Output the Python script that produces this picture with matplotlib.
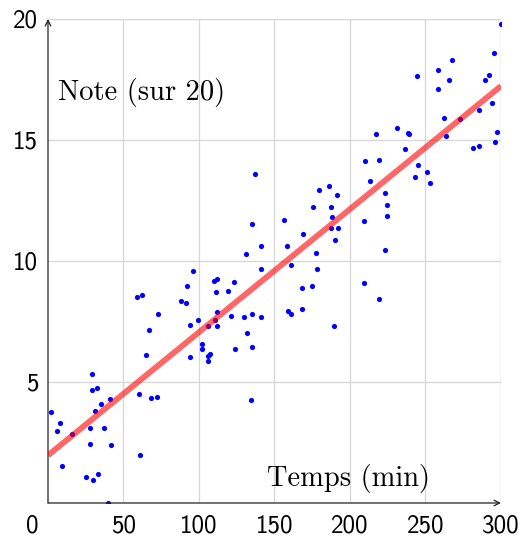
import numpy as np
import matplotlib.pyplot as plt

# Scatter data (time in minutes, grade out of 20)
temps = [58.9, 62.3, 72.8, 67.1, 65.1, 29.1, 28.9, 32.2, 41.1, 35.1,
         31.1, 60.1, 68.2, 72.0, 2.0, 7.9, 6.0, 16.1, 28.0, 37.1,
         28.0, 41.9, 60.9, 9.1, 25.2, 30.0, 33.1, 39.9,
         137.1, 135.1, 131.1, 141.0, 141.0, 96.0, 110.1, 112.1, 92.3, 123.2,
         111.3, 119.0, 88.1, 91.2, 112.1, 121.2, 135.1, 130.0, 141.0, 99.1,
         94.2, 110.4, 106.2, 112.1, 132.0, 102.2, 102.2, 124.1, 135.1, 107.3,
         106.2, 106.2, 94.2, 134.2,
         217.0, 210.1, 219.4, 213.2, 179.3, 186.1, 191.2, 175.3, 187.2, 188.3,
         187.2, 192.3, 190.3, 209.3, 156.1, 169.1, 158.3, 177.3, 161.1, 178.1,
         168.0, 175.0, 168.0, 159.2, 161.1, 209.3, 219.4, 189.2,
         300.0, 295.4, 267.3, 258.3, 244.4, 265.4, 289.2, 292.3, 258.3, 294.2,
         285.4, 273.1, 262.3, 263.4, 231.1, 238.2, 239.3, 297.4, 296.3, 281.5,
         285.4, 236.2, 245.2, 251.2, 243.3, 253.2, 223.2, 224.3, 224.3, 223.2]
notes = [8.50, 8.60, 7.81, 7.15, 6.10, 5.32, 4.68, 4.74, 4.31, 4.08,
         3.80, 4.52, 4.32, 4.39, 3.75, 3.32, 2.98, 2.86, 3.08, 3.11,
         2.43, 2.40, 1.97, 1.52, 1.07, 0.94, 1.19, 0.01,
         13.61, 11.53, 10.28, 10.62, 9.65, 9.60, 9.19, 9.26, 8.97, 9.15,
         8.73, 8.75, 8.33, 8.26, 7.89, 7.73, 7.82, 7.67, 7.67, 7.55,
         7.34, 7.57, 7.33, 7.30, 7.01, 6.57, 6.36, 6.35, 6.46, 6.16,
         6.09, 5.85, 6.02, 4.27,
         15.26, 14.12, 14.17, 13.29, 12.95, 13.11, 12.71, 12.24, 12.23, 11.81,
         11.35, 11.35, 10.87, 11.65, 11.69, 11.12, 10.62, 10.34, 9.82, 9.66,
         8.87, 8.97, 8.02, 7.95, 7.80, 9.09, 8.43, 7.30,
         19.81, 18.58, 18.32, 17.89, 17.63, 17.49, 17.49, 17.67, 17.12, 16.52,
         16.23, 15.87, 15.92, 15.18, 15.50, 15.28, 15.25, 15.32, 14.92, 14.67,
         14.76, 14.61, 13.95, 13.69, 13.48, 13.24, 12.82, 12.33, 11.85, 10.47]

# Fitted line (end points)
fit_x = [0, 300]
fit_y = [1.97, 17.23]

xticks = [50, 100, 150, 200, 250, 300]
yticks = [5, 10, 15, 20]

fig = plt.figure(figsize=(5.24, 5.39), dpi=100)
ax = fig.add_axes([0.0916, 0.0668, 0.8645, 0.898])

ax.scatter(temps, notes, s=14, color='blue', zorder=3, linewidths=0)
ax.plot(fit_x, fit_y, color='red', alpha=0.6, lw=4.2, zorder=4,
        solid_capstyle='butt')

ax.set_xlim(0, 300)
ax.set_ylim(0, 20)
ax.set_xticks(xticks)
ax.set_yticks(yticks)
ax.tick_params(length=0, labelsize=18, pad=7)
ax.tick_params(axis='x', pad=8)
for lab in ax.get_xticklabels() + ax.get_yticklabels():
    lab.set_family('cmss10')
ax.grid(True, color='#d6d6d6', lw=0.9, zorder=0)
ax.set_axisbelow(True)

for s in ax.spines.values():
    s.set_visible(False)
# right and top grid lines
ax.axvline(300, color='#d6d6d6', lw=0.9, zorder=0)
ax.axhline(20, color='#d6d6d6', lw=0.9, zorder=0)

# axes with arrows
ax.annotate('', xy=(1, 0), xytext=(0, 0), xycoords='axes fraction',
            arrowprops=dict(arrowstyle='->', lw=0.9, color='#222222',
                            shrinkA=0, shrinkB=0), annotation_clip=False)
ax.annotate('', xy=(0, 1), xytext=(0, 0), xycoords='axes fraction',
            arrowprops=dict(arrowstyle='->', lw=0.9, color='#222222',
                            shrinkA=0, shrinkB=0), annotation_clip=False)

# origin label
ax.annotate('0', xy=(0, 0), xycoords='axes fraction', xytext=(-7, -8),
            textcoords='offset points', ha='right', va='top',
            family='cmss10', fontsize=18)

ax.text(253, 0.7, 'Temps (min)', family='cmr10', fontsize=20.5,
        ha='right', va='baseline')
ax.text(6.6, 16.65, 'Note (sur 20)', family='cmr10', fontsize=20.5,
        ha='left', va='baseline')

fig.savefig('out.png', dpi=100)
